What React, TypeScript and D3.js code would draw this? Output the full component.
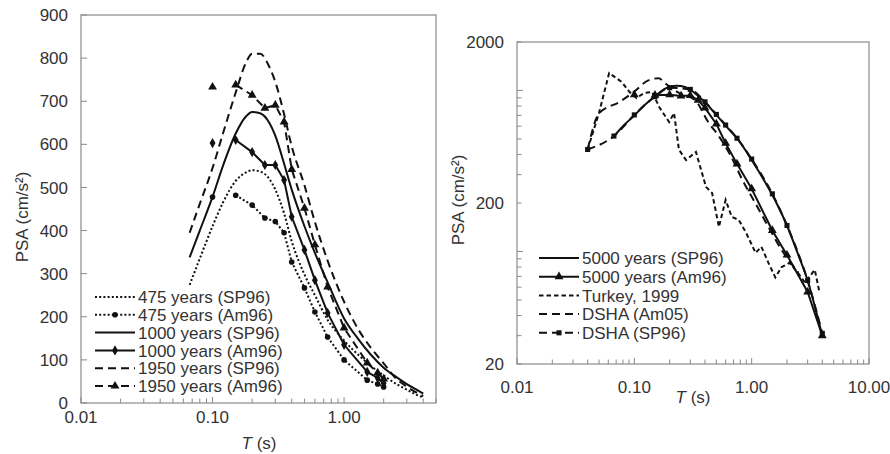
import * as d3 from "d3";
import { useEffect, useRef } from "react";

// ---- left panel: PSA (linear) vs period (log) ----
const T_SP96 = [0.067, 0.08, 0.1, 0.12, 0.15, 0.18, 0.2, 0.23, 0.27, 0.3, 0.35, 0.4, 0.5, 0.6, 0.75, 1.0, 1.3, 1.6, 2.0, 2.5, 3.0, 3.5, 4.0];
const PSA_475_SP96 = [274, 335, 410, 465, 515, 535, 540, 537, 520, 495, 440, 375, 298, 250, 193, 145, 110, 86, 64, 44, 31, 20, 13];
const PSA_1000_SP96 = [338, 400, 478, 550, 625, 665, 675, 672, 650, 620, 555, 495, 410, 348, 280, 196, 146, 112, 82, 60, 44, 32, 22];
const PSA_1950_SP96 = [395, 462, 545, 625, 720, 790, 810, 810, 780, 745, 670, 595, 505, 420, 330, 235, 168, 128, 92, 56, 38, 25, 16];

const T_AM96 = [0.1, 0.15, 0.2, 0.25, 0.3, 0.35, 0.4, 0.5, 0.6, 0.75, 1.0, 1.5, 1.8, 2.0];
const PSA_475_AM96 = [478, 482, 459, 429, 421, 395, 327, 267, 211, 153, 100, 53, 44, 37];
const PSA_1000_AM96 = [603, 610, 582, 552, 552, 517, 432, 355, 285, 209, 135, 72, 58, 46];
const PSA_1950_AM96 = [733, 738, 714, 684, 691, 652, 542, 452, 367, 269, 174, 93, 70, 56];

const LEFT_Y_TICKS = [0, 100, 200, 300, 400, 500, 600, 700, 800, 900];
const LEFT_X_LABELS = [0.01, 0.1, 1];

// ---- right panel: log-log ----
const PSA_5000_SP96 = [520, 600, 700, 800, 920, 1020, 1055, 1068, 1050, 1010, 925, 845, 705, 605, 505, 370, 270, 205, 145, 95, 66, 44, 30];

const T_AM96_5000 = [0.1, 0.15, 0.2, 0.25, 0.3, 0.35, 0.4, 0.5, 0.6, 0.75, 1.0, 1.5, 2.0, 3.0, 4.0];
const PSA_5000_AM96 = [940, 935, 940, 925, 930, 870, 780, 620, 470, 350, 245, 135, 95, 56, 30];

const T_TURKEY = [0.04, 0.05, 0.061, 0.078, 0.091, 0.104, 0.121, 0.142, 0.163, 0.198, 0.218, 0.24, 0.276, 0.335, 0.408, 0.46, 0.526, 0.6, 0.676, 0.776, 0.9, 1.08, 1.21, 1.39, 1.59, 1.8, 2.1, 2.5, 2.85, 3.45, 3.8];
const PSA_TURKEY = [430, 725, 1283, 1130, 978, 897, 964, 978, 789, 637, 725, 428, 370, 415, 252, 231, 142, 209, 164, 157, 130, 98, 107, 85, 69, 80, 85, 73, 64, 77, 55];

const T_AM05 = [0.04, 0.05, 0.075, 0.1, 0.13, 0.16, 0.19, 0.24, 0.33, 0.43, 0.53, 0.66, 0.82, 1.08, 1.39, 1.79, 2.1, 2.5];
const PSA_DSHA_AM05 = [430, 720, 850, 985, 1150, 1190, 1085, 965, 870, 630, 515, 395, 285, 198, 142, 103, 87, 74];

const T_DSHA_SP96 = [0.04, 0.067, 0.1, 0.15, 0.2, 0.3, 0.4, 0.5, 0.6, 0.75, 1.0, 1.5, 2.0, 3.0, 4.0];
const PSA_DSHA_SP96 = [430, 521, 705, 915, 1040, 1015, 850, 710, 610, 505, 375, 228, 145, 66, 31];

const RIGHT_Y_LABELS = [20, 200, 2000];
const RIGHT_X_LABELS = [0.01, 0.1, 1, 10];

const FONT = "'Liberation Sans', Arial, sans-serif";
const INK = "#111";
const TEXT = "#333";
const FRAME = "#8a8a8a";

const DASH = { dotted: "2,2.2", solid: null, dashed: "8,5", short: "4.5,3" };

const zip = (t, v) => t.map((d, i) => ({ t: d, v: v[i] }));

const LEFT_SERIES = [
	{ label: "475 years (SP96)", data: zip(T_SP96, PSA_475_SP96), dash: DASH.dotted, smooth: true },
	{ label: "475 years (Am96)", data: zip(T_AM96, PSA_475_AM96), dash: DASH.dotted, marker: "dot", from: 1 },
	{ label: "1000 years (SP96)", data: zip(T_SP96, PSA_1000_SP96), dash: DASH.solid, smooth: true },
	{ label: "1000 years (Am96)", data: zip(T_AM96, PSA_1000_AM96), dash: DASH.solid, marker: "diamond", from: 1 },
	{ label: "1950 years (SP96)", data: zip(T_SP96, PSA_1950_SP96), dash: DASH.dashed, smooth: true },
	{ label: "1950 years (Am96)", data: zip(T_AM96, PSA_1950_AM96), dash: DASH.dashed, marker: "triangle", from: 1 },
];

const RIGHT_SERIES = [
	{ label: "5000 years (SP96)", data: zip(T_SP96, PSA_5000_SP96), dash: DASH.solid, smooth: true },
	{ label: "5000 years (Am96)", data: zip(T_AM96_5000, PSA_5000_AM96), dash: DASH.solid, marker: "triangle", from: 1 },
	{ label: "Turkey, 1999", data: zip(T_TURKEY, PSA_TURKEY), dash: DASH.short },
	{ label: "DSHA (Am05)", data: zip(T_AM05, PSA_DSHA_AM05), dash: DASH.dashed, smooth: true },
	{ label: "DSHA (SP96)", data: zip(T_DSHA_SP96, PSA_DSHA_SP96), dash: DASH.dashed, marker: "square", smooth: true },
];

const LEFT = {
	x0: 81, x1: 436, y0: 15, y1: 403,
	xDomain: [0.01, 5], yLog: false, yDomain: [0, 900],
	yTicks: LEFT_Y_TICKS, yLabels: LEFT_Y_TICKS, xLabels: LEFT_X_LABELS,
	xLabelY: 423, xTitle: [259, 449], yTitle: [22, 217],
	legend: { x: 95, y: 297, dy: 17.8 },
	series: LEFT_SERIES,
};

const RIGHT = {
	x0: 517, x1: 869, y0: 42, y1: 364,
	xDomain: [0.01, 10], yLog: true, yDomain: [20, 2000],
	yTicks: null, yLabels: RIGHT_Y_LABELS, xLabels: RIGHT_X_LABELS,
	xLabelY: 393, xTitle: [693, 403], yTitle: [458, 200],
	legend: { x: 539, y: 258, dy: 18.7 },
	series: RIGHT_SERIES,
};

function logTicks(lo, hi) {
	const out = [];
	for (let e = Math.floor(Math.log10(lo)); e <= Math.ceil(Math.log10(hi)); e++) {
		for (let k = 1; k <= 9; k++) {
			const v = k * Math.pow(10, e);
			if (v >= lo * 0.999 && v <= hi * 1.001) out.push({ v, major: k === 1 });
		}
	}
	return out;
}

function drawMarker(g, type, x, y) {
	if (!type) return;
	if (type === "dot") {
		g.append("circle").attr("cx", x).attr("cy", y).attr("r", 2.8).attr("fill", INK);
		return;
	}
	const sym = { diamond: d3.symbolDiamond, triangle: d3.symbolTriangle, square: d3.symbolSquare }[type];
	const size = { diamond: 30, triangle: 34, square: 26 }[type];
	g.append("path")
		.attr("d", d3.symbol().type(sym).size(size)())
		.attr("transform", `translate(${x},${y})`)
		.attr("fill", INK);
}

function drawPanel(svg, cfg) {
	const x = d3.scaleLog().domain(cfg.xDomain).range([cfg.x0, cfg.x1]);
	const y = cfg.yLog
		? d3.scaleLog().domain(cfg.yDomain).range([cfg.y1, cfg.y0])
		: d3.scaleLinear().domain(cfg.yDomain).range([cfg.y1, cfg.y0]);

	const g = svg.append("g");

	// frame
	g.append("rect")
		.attr("x", cfg.x0).attr("y", cfg.y0)
		.attr("width", cfg.x1 - cfg.x0).attr("height", cfg.y1 - cfg.y0)
		.attr("fill", "none").attr("stroke", FRAME).attr("stroke-width", 1.2);

	// x ticks (inward), minor ones too
	logTicks(cfg.xDomain[0], cfg.xDomain[1]).forEach(({ v, major }) => {
		g.append("line")
			.attr("x1", x(v)).attr("x2", x(v))
			.attr("y1", cfg.y1).attr("y2", cfg.y1 - (major ? 6 : 4.5))
			.attr("stroke", FRAME).attr("stroke-width", 1);
	});
	cfg.xLabels.forEach((v) => {
		g.append("text")
			.attr("x", x(v)).attr("y", cfg.xLabelY)
			.attr("text-anchor", "middle")
			.attr("font-size", 17).attr("fill", TEXT)
			.text(v.toFixed(2));
	});

	// y ticks
	const yt = cfg.yLog
		? logTicks(cfg.yDomain[0], cfg.yDomain[1])
		: cfg.yTicks.map((v) => ({ v, major: true }));
	yt.forEach(({ v, major }) => {
		g.append("line")
			.attr("x1", cfg.x0).attr("x2", cfg.x0 + (major ? 6 : 4.5))
			.attr("y1", y(v)).attr("y2", y(v))
			.attr("stroke", FRAME).attr("stroke-width", 1);
	});
	cfg.yLabels.forEach((v) => {
		g.append("text")
			.attr("x", cfg.x0 - 13).attr("y", y(v))
			.attr("dy", "0.36em")
			.attr("text-anchor", "end")
			.attr("font-size", 17).attr("fill", TEXT)
			.text(v);
	});

	// axis titles
	const xt = g.append("text")
		.attr("x", cfg.xTitle[0]).attr("y", cfg.xTitle[1])
		.attr("text-anchor", "middle")
		.attr("font-size", 17).attr("fill", TEXT);
	xt.append("tspan").attr("font-style", "italic").text("T");
	xt.append("tspan").text(" (s)");

	g.append("text")
		.attr("transform", `translate(${cfg.yTitle[0]},${cfg.yTitle[1]}) rotate(-90)`)
		.attr("text-anchor", "middle")
		.attr("dy", "0.35em")
		.attr("font-size", 17).attr("fill", TEXT)
		.text("PSA (cm/s²)");

	// series
	cfg.series.forEach((s) => {
		const line = d3.line()
			.x((d) => x(d.t))
			.y((d) => y(d.v))
			.curve(s.smooth ? d3.curveMonotoneX : d3.curveLinear);
		g.append("path")
			.attr("d", line(s.data.slice(s.from || 0)))
			.attr("fill", "none")
			.attr("stroke", INK)
			.attr("stroke-width", 2)
			.attr("stroke-dasharray", s.dash);
		s.data.forEach((d) => drawMarker(g, s.marker, x(d.t), y(d.v)));
	});

	// legend
	const { legend } = cfg;
	cfg.series.forEach((s, i) => {
		const ly = legend.y + i * legend.dy;
		g.append("line")
			.attr("x1", legend.x).attr("x2", legend.x + 40)
			.attr("y1", ly).attr("y2", ly)
			.attr("stroke", INK)
			.attr("stroke-width", 2)
			.attr("stroke-dasharray", s.dash);
		drawMarker(g, s.marker, legend.x + 20, ly);
		g.append("text")
			.attr("x", legend.x + 43).attr("y", ly)
			.attr("dy", "0.36em")
			.attr("font-size", 17).attr("fill", TEXT)
			.text(s.label);
	});
}

export default function App() {
	const svgRef = useRef(null);

	useEffect(() => {
		const svg = d3.select(svgRef.current);
		svg.selectAll("*").remove();
		svg.append("rect").attr("width", 890).attr("height", 454).attr("fill", "#fff");
		drawPanel(svg, LEFT);
		drawPanel(svg, RIGHT);
	}, []);

	return (
		<svg
			ref={svgRef}
			width={890}
			height={454}
			style={{ position: "absolute", left: 0, top: 0, fontFamily: FONT }}
		/>
	);
}
